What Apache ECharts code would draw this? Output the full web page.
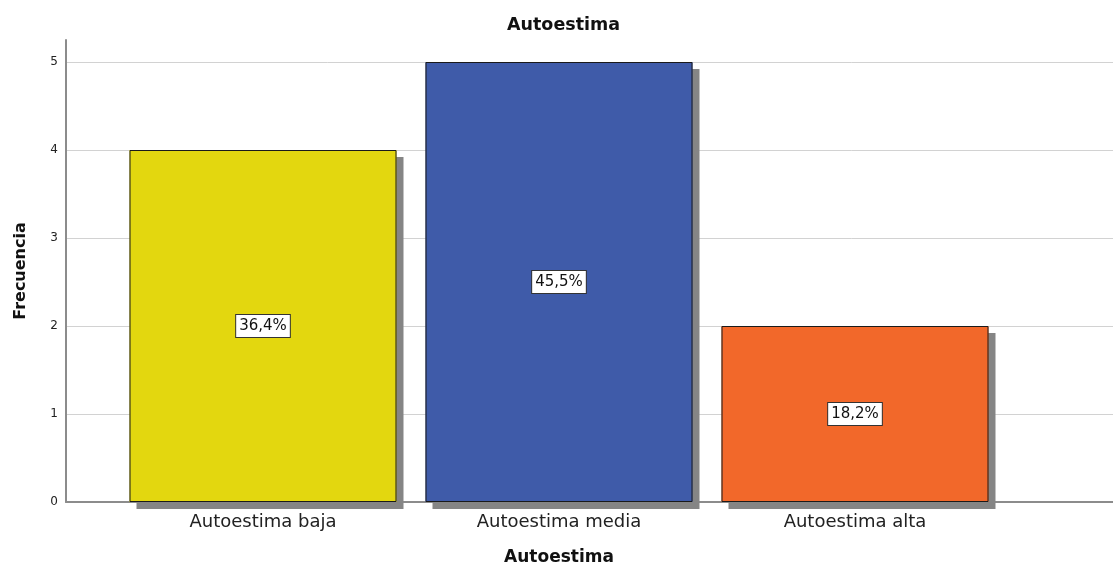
<!DOCTYPE html>
<html><head><meta charset="utf-8">
<script src="https://cdn.jsdelivr.net/npm/echarts@6/dist/echarts.min.js"></script>
<style>html,body{margin:0;padding:0;background:#fff}#c{width:1113px;height:567px}</style>
</head><body><div id="c"></div>
<script>
const categories = ['Autoestima baja', 'Autoestima media', 'Autoestima alta'];
const frecuencias = [4, 5, 2];
const porcentajes = ['36,4%', '45,5%', '18,2%'];
const colores = ['#E3D70F', '#3F5BA9', '#F2682A'];

const chart = echarts.init(document.getElementById('c'));
const font = '"DejaVu Sans", sans-serif';
chart.setOption({
  animation: false,
  backgroundColor: '#ffffff',
  title: {
    text: 'Autoestima', left: 502, top: 11,
    textStyle: {fontFamily: font, fontSize: 17.5, fontWeight: 'bold', color: '#111'}
  },
  grid: [
    {left: 66, right: 0, top: 40, bottom: 65, outerBoundsMode: 'none', containLabel: false},
    {left: 115, width: 888, top: 40, bottom: 65, outerBoundsMode: 'none', containLabel: false}
  ],
  xAxis: [
    {type: 'value', gridIndex: 0, min: 0, max: 1, axisLine: {show: true, lineStyle: {color: '#8c8c8c', width: 2}},
     axisTick: {show: false}, axisLabel: {show: false}, splitLine: {show: false}},
    {type: 'category', gridIndex: 1, data: categories,
     axisLine: {show: false}, axisTick: {show: false},
     axisLabel: {fontFamily: font, fontSize: 18, color: '#222', margin: 11},
     name: 'Autoestima', nameLocation: 'middle', nameGap: 47,
     nameTextStyle: {fontFamily: font, fontSize: 17, fontWeight: 'bold', color: '#111'}}
  ],
  yAxis: [
    {type: 'value', gridIndex: 0, min: 0, max: 5.25, interval: 1,
     axisLine: {show: true, lineStyle: {color: '#8c8c8c', width: 2}},
     axisTick: {show: false},
     axisLabel: {fontFamily: font, fontSize: 12, color: '#222', margin: 8, showMaxLabel: false},
     splitLine: {show: true, showMaxLine: false, lineStyle: {color: '#d2d2d2', width: 1}},
     name: 'Frecuencia', nameLocation: 'middle', nameGap: 37,
     nameTextStyle: {fontFamily: font, fontSize: 16, fontWeight: 'bold', color: '#111'}},
    {type: 'value', gridIndex: 1, min: 0, max: 5.25, show: false}
  ],
  series: [{
    type: 'bar', xAxisIndex: 1, yAxisIndex: 1, barWidth: 267, barGap: '-100%',
    data: frecuencias.map((v, i) => ({value: v, itemStyle: {color: colores[i]}})),
    itemStyle: {borderWidth: 0,
      shadowColor: '#858585', shadowOffsetX: 7, shadowOffsetY: 7, shadowBlur: 0}
  }, {
    type: 'bar', xAxisIndex: 1, yAxisIndex: 1, barWidth: 267, barGap: '-100%',
    data: frecuencias,
    itemStyle: {color: 'rgba(0,0,0,0)', borderColor: '#1a1a1a', borderWidth: 1},
    label: {
      show: true, position: 'inside',
      formatter: p => porcentajes[p.dataIndex],
      fontFamily: font, fontSize: 15, color: '#111',
      backgroundColor: '#ffffff', borderColor: '#333', borderWidth: 1, padding: [4, 3, 3, 3]
    }
  }]
});
</script></body></html>
